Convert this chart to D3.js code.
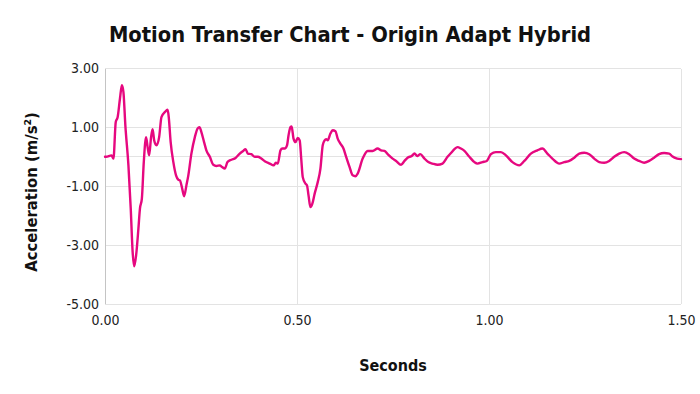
<!DOCTYPE html>
<html>
<head>
<meta charset="utf-8">
<script src="https://cdn.jsdelivr.net/npm/d3@7"></script>
<style>
html,body{margin:0;padding:0;background:#fff;}
svg{display:block;}
</style>
</head>
<body>
<svg id="chart" width="700" height="394"></svg>
<script>
const title = "Motion Transfer Chart - Origin Adapt Hybrid";
const xTitle = "Seconds";
const yTitle = "Acceleration (m/s²)";
const xTicks = [0, 0.5, 1.0, 1.5];
const yTicks = [3, 1, -1, -3, -5];
const seconds = [0.000,0.003,0.017,0.022,0.028,0.033,0.039,0.044,0.048,0.053,0.061,0.067,0.072,0.076,0.081,0.087,0.091,0.096,0.101,0.107,0.111,0.115,0.120,0.124,0.128,0.134,0.141,0.147,0.156,0.163,0.166,0.171,0.178,0.185,0.191,0.195,0.201,0.206,0.212,0.217,0.225,0.234,0.241,0.246,0.251,0.258,0.264,0.273,0.282,0.290,0.299,0.305,0.312,0.319,0.329,0.340,0.351,0.360,0.366,0.372,0.381,0.390,0.398,0.407,0.416,0.429,0.439,0.445,0.450,0.457,0.462,0.468,0.474,0.478,0.483,0.486,0.491,0.496,0.502,0.507,0.511,0.515,0.522,0.526,0.530,0.535,0.540,0.546,0.554,0.561,0.567,0.572,0.576,0.580,0.587,0.593,0.600,0.606,0.613,0.621,0.628,0.637,0.645,0.652,0.658,0.671,0.684,0.697,0.710,0.719,0.728,0.736,0.749,0.758,0.771,0.780,0.788,0.799,0.806,0.813,0.821,0.832,0.842,0.853,0.866,0.879,0.892,0.901,0.910,0.918,0.927,0.936,0.949,0.962,0.970,0.983,0.994,1.005,1.018,1.031,1.044,1.061,1.079,1.092,1.109,1.126,1.139,1.152,1.165,1.183,1.196,1.209,1.222,1.235,1.248,1.261,1.274,1.287,1.300,1.313,1.326,1.339,1.352,1.365,1.378,1.391,1.404,1.417,1.430,1.443,1.456,1.469,1.477,1.490,1.500];
const acceleration = [0.00,0.00,0.05,-0.06,1.18,1.35,1.98,2.43,2.20,1.07,-0.29,-1.75,-3.24,-3.72,-3.35,-2.44,-1.76,-1.42,-0.18,0.67,0.33,0.05,0.67,0.94,0.56,0.39,0.67,1.35,1.52,1.60,1.35,0.50,-0.18,-0.63,-0.78,-0.80,-1.08,-1.34,-0.97,-0.63,0.11,0.67,0.96,1.01,0.84,0.50,0.22,0.00,-0.27,-0.31,-0.29,-0.35,-0.40,-0.18,-0.10,-0.04,0.11,0.20,0.26,0.11,0.09,0.00,0.00,-0.06,-0.15,-0.23,-0.29,-0.20,-0.23,0.22,0.28,0.28,0.39,0.73,1.01,1.03,0.62,0.50,0.64,0.56,-0.06,-0.69,-0.91,-0.97,-1.31,-1.71,-1.59,-1.25,-0.86,-0.40,0.39,0.56,0.60,0.56,0.79,0.90,0.87,0.62,0.45,0.28,0.00,-0.35,-0.63,-0.66,-0.57,-0.06,0.20,0.20,0.28,0.22,0.20,0.09,-0.06,-0.14,-0.27,-0.14,-0.03,0.03,0.11,0.03,0.09,-0.06,-0.18,-0.23,-0.27,-0.23,0.00,0.13,0.26,0.33,0.28,0.20,0.00,-0.18,-0.23,-0.18,-0.14,0.09,0.16,0.16,0.05,-0.18,-0.29,-0.14,0.11,0.22,0.28,0.11,-0.06,-0.23,-0.18,-0.14,-0.03,0.11,0.14,0.09,-0.06,-0.18,-0.20,-0.14,0.00,0.11,0.16,0.09,-0.06,-0.14,-0.20,-0.14,-0.03,0.09,0.13,0.11,0.02,-0.06,-0.08];

const svg = d3.select("#chart");
const x = d3.scaleLinear().domain([0, 1.5]).range([105, 681]);
const y = d3.scaleLinear().domain([-5, 3]).range([304, 68.5]);
const font = "'DejaVu Sans Condensed','DejaVu Sans',Verdana,sans-serif";
const fmt = d => d.toFixed(2);

// horizontal gridlines
const gridY = [3,1,0,-1,-3];
svg.append("g").selectAll("line").data(gridY).join("line")
  .attr("x1", x(0)).attr("x2", x(1.5))
  .attr("y1", d => y(d)).attr("y2", d => y(d))
  .attr("stroke", "#e3e3e3").attr("stroke-width", 1).attr("shape-rendering","crispEdges");
// vertical gridlines
svg.append("g").selectAll("line").data(xTicks.slice(1)).join("line")
  .attr("x1", d => x(d)).attr("x2", d => x(d))
  .attr("y1", y(3)).attr("y2", y(-5))
  .attr("stroke", "#e3e3e3").attr("stroke-width", 1).attr("shape-rendering","crispEdges");
// bottom line & left axis line
svg.append("line").attr("x1", x(0)).attr("x2", x(1.5)).attr("y1", y(-5)).attr("y2", y(-5))
  .attr("stroke", "#e3e3e3").attr("shape-rendering","crispEdges");
svg.append("line").attr("x1", x(0)).attr("x2", x(0)).attr("y1", y(3)).attr("y2", y(-5))
  .attr("stroke", "#c4c4c4").attr("shape-rendering","crispEdges");

// y axis labels
const yAxis = d3.axisLeft(y).tickValues(yTicks).tickFormat(fmt).tickSize(0).tickPadding(6);
const gy = svg.append("g").attr("transform", `translate(${x(0)},0)`).call(yAxis);
gy.select(".domain").remove();
gy.selectAll("text").attr("font-family", font).attr("font-size", 14).attr("fill", "#222");

// x axis labels
const xAxis = d3.axisBottom(x).tickValues(xTicks).tickFormat(fmt).tickSize(0).tickPadding(11);
const gx = svg.append("g").attr("transform", `translate(0,${y(-5)})`).call(xAxis);
gx.select(".domain").remove();
gx.selectAll("text").attr("font-family", font).attr("font-size", 14).attr("fill", "#222");

// line
const data = seconds.map((s, i) => [s, acceleration[i]]);
svg.append("path").datum(data)
  .attr("fill", "none").attr("stroke", "#E6087F").attr("stroke-width", 2.4)
  .attr("stroke-linejoin", "round").attr("stroke-linecap", "round")
  .attr("d", d3.line().x(d => x(d[0])).y(d => y(d[1])).curve(d3.curveMonotoneX));

// titles
svg.append("text").attr("x", 350).attr("y", 42).attr("text-anchor", "middle")
  .attr("font-family", font).attr("font-weight", "bold").attr("font-size", 21.7).attr("fill", "#111")
  .text(title);
svg.append("text").attr("x", 393).attr("y", 371).attr("text-anchor", "middle")
  .attr("font-family", font).attr("font-weight", "bold").attr("font-size", 16).attr("fill", "#111")
  .text(xTitle);
svg.append("text").attr("transform", "translate(37,192) rotate(-90)").attr("text-anchor", "middle")
  .attr("font-family", font).attr("font-weight", "bold").attr("font-size", 16.5).attr("fill", "#111")
  .text(yTitle);
</script>
</body>
</html>
